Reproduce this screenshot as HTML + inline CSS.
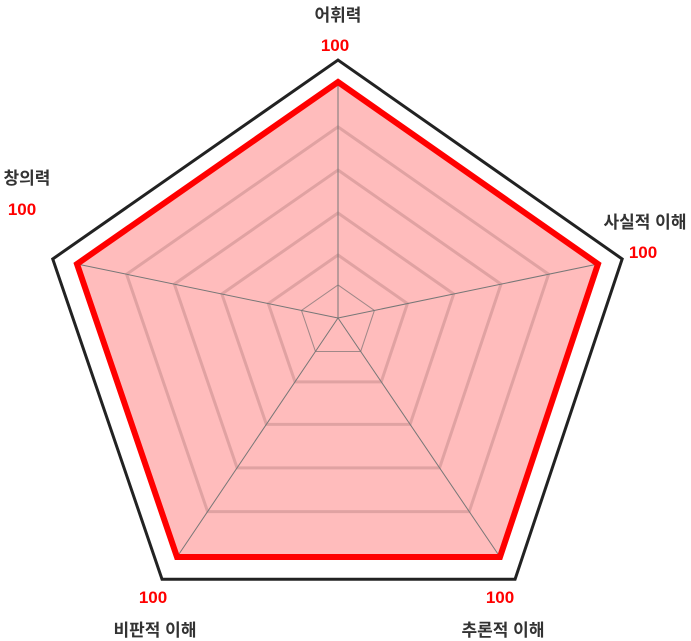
<!DOCTYPE html>
<html><head><meta charset="utf-8"><style>
html,body{margin:0;padding:0;background:#fff;}
svg{display:block;font-family:"Liberation Sans","Noto Sans CJK KR",sans-serif;}
</style></head><body>
<svg id="chart" width="691" height="641" viewBox="0 0 691 641"></svg>
<script>
const categories = ["어휘력","사실적 이해","추론적 이해","비판적 이해","창의력"];
const values = [100,100,100,100,100];
const valueLabels = ["100","100","100","100","100"];
const maxValue = 100;
const gridLevels = [0.14,0.267,0.445,0.627,0.81];

const svg = document.getElementById('chart');
const NS = 'http://www.w3.org/2000/svg';
const cx = 338, cy = 318;
const dirs = [[0,-236],[260,-54],[162,239],[-161,239],[-261,-54]];
const frameScale = 1.093;
const labelPos = [[338,15,335,45],[645,222,643,252],[503,630,500,597],[155,630,153,597],[27,178,22,209]];
function pt(i, f){ return [cx + dirs[i][0]*f, cy + dirs[i][1]*f]; }
function poly(f){ return dirs.map((d,i)=>pt(i,f).join(',')).join(' '); }
function mk(tag, attrs){ const e=document.createElementNS(NS,tag); for(const k in attrs) e.setAttribute(k,attrs[k]); svg.appendChild(e); return e; }

let e = mk('polygon',{points:poly(frameScale),fill:'none',stroke:'#222','stroke-width':3,'stroke-linejoin':'miter'});



const dataPts = values.map((v,i)=>pt(i,v/maxValue).join(',')).join(' ');
e = mk('polygon',{points:dataPts,fill:'#ffbcbc',stroke:'none'});



gridLevels.forEach((g,k)=>{
  const el = mk('polygon',{points:poly(g),fill:'none',stroke:k===0?'#a08888':'#e0a2a2','stroke-width':k===0?1:3});
  
  
});
dirs.forEach((d,i)=>{
  const p = pt(i,1);
  const el = mk('line',{x1:cx,y1:cy,x2:p[0],y2:p[1],stroke:'#777','stroke-width':1});
  
  
});

e = mk('polygon',{points:dataPts,fill:'none',stroke:'#ff0000','stroke-width':6,'stroke-linejoin':'miter'});



categories.forEach((c,i)=>{
  const L = labelPos[i];
  const t = mk('text',{x:L[0],y:L[1]+6,'text-anchor':'middle','font-size':17,fill:'#333','font-weight':'bold'});
  t.textContent = c;
  
  
  const v = mk('text',{x:L[2],y:L[3]+6,'text-anchor':'middle','font-size':17,fill:'#ff0000','font-weight':'bold'});
  v.textContent = valueLabels[i];
  
  
});
</script>
</body></html>
